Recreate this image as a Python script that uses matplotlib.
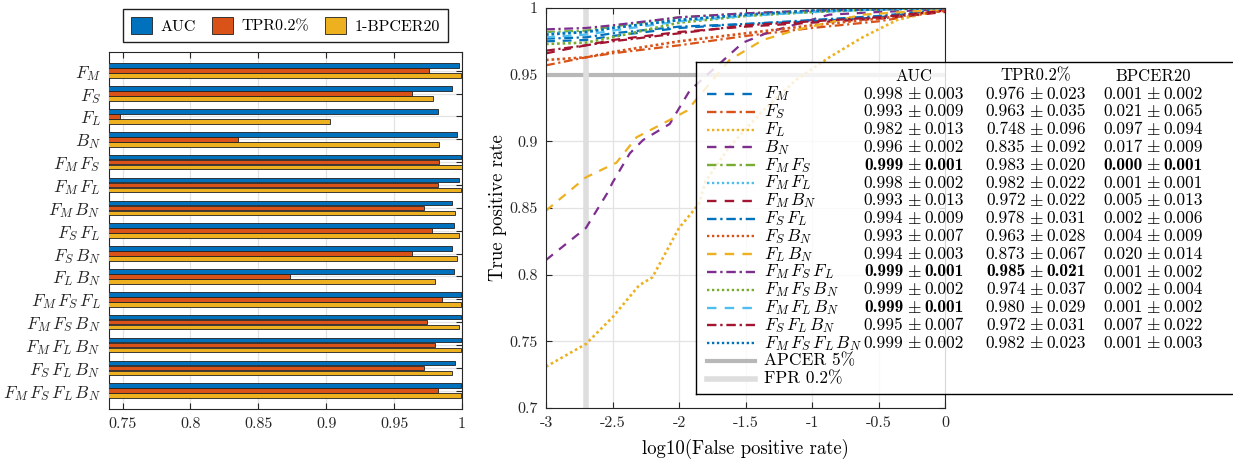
import numpy as np
import matplotlib
matplotlib.use('Agg')
import matplotlib.pyplot as plt

plt.rcParams['font.family'] = ['cmr10', 'DejaVu Serif']
plt.rcParams['mathtext.fontset'] = 'cm'
plt.rcParams['axes.unicode_minus'] = False

# feature combinations (row order of the table / bar chart)
names = [r'F_M', r'F_S', r'F_L', r'B_N',
         r'F_M\,F_S', r'F_M\,F_L', r'F_M\,B_N', r'F_S\,F_L', r'F_S\,B_N', r'F_L\,B_N',
         r'F_M\,F_S\,F_L', r'F_M\,F_S\,B_N', r'F_M\,F_L\,B_N', r'F_S\,F_L\,B_N',
         r'F_M\,F_S\,F_L\,B_N']

auc       = [0.998, 0.993, 0.982, 0.996, 0.999, 0.998, 0.993, 0.994, 0.993, 0.994, 0.999, 0.999, 0.999, 0.995, 0.999]
auc_std   = [0.003, 0.009, 0.013, 0.002, 0.001, 0.002, 0.013, 0.009, 0.007, 0.003, 0.001, 0.002, 0.001, 0.007, 0.002]
tpr       = [0.976, 0.963, 0.748, 0.835, 0.983, 0.982, 0.972, 0.978, 0.963, 0.873, 0.985, 0.974, 0.980, 0.972, 0.982]
tpr_std   = [0.023, 0.035, 0.096, 0.092, 0.020, 0.022, 0.022, 0.031, 0.028, 0.067, 0.021, 0.037, 0.029, 0.031, 0.023]
bpcer     = [0.001, 0.021, 0.097, 0.017, 0.000, 0.001, 0.005, 0.002, 0.004, 0.020, 0.001, 0.002, 0.001, 0.007, 0.001]
bpcer_std = [0.002, 0.065, 0.094, 0.009, 0.001, 0.001, 0.013, 0.006, 0.009, 0.014, 0.002, 0.004, 0.002, 0.022, 0.003]

# best entries shown in bold
auc_best   = [4, 10, 12]
tpr_best   = [10]
bpcer_best = [4]

# ROC curves, log10(FPR) -> TPR
roc_x = [-3.0, -2.7, -2.5, -2.0, -1.5, -1.0, -0.5, 0.0]
roc_y = {
    0:  [0.975, 0.976, 0.979, 0.985, 0.988, 0.990, 0.993, 0.999],
    1:  [0.957, 0.963, 0.966, 0.972, 0.979, 0.985, 0.990, 0.998],
    4:  [0.982, 0.983, 0.986, 0.993, 0.996, 0.998, 0.999, 1.000],
    5:  [0.981, 0.982, 0.985, 0.991, 0.995, 0.997, 0.999, 1.000],
    6:  [0.966, 0.972, 0.976, 0.982, 0.986, 0.989, 0.992, 0.997],
    7:  [0.977, 0.978, 0.981, 0.986, 0.988, 0.991, 0.994, 0.999],
    8:  [0.961, 0.963, 0.967, 0.975, 0.981, 0.987, 0.992, 0.998],
    10: [0.984, 0.985, 0.987, 0.993, 0.996, 0.998, 0.999, 1.000],
    11: [0.973, 0.974, 0.978, 0.989, 0.994, 0.997, 0.999, 1.000],
    12: [0.978, 0.980, 0.983, 0.990, 0.994, 0.997, 0.999, 1.000],
    13: [0.968, 0.972, 0.975, 0.981, 0.987, 0.990, 0.993, 0.998],
    14: [0.980, 0.982, 0.985, 0.991, 0.995, 0.998, 0.999, 1.000],
}
fl_x = [-3.0, -2.7, -2.5, -2.3, -2.2, -2.0, -1.85, -1.8, -1.62, -1.37, -1.12, -0.87, -0.62, -0.36, -0.11, 0.0]
fl_y = [0.731, 0.748, 0.768, 0.792, 0.798, 0.835, 0.853, 0.870, 0.896, 0.923, 0.946, 0.963, 0.978, 0.991, 0.997, 0.999]
bn_x = [-3.0, -2.7, -2.54, -2.5, -2.37, -2.27, -2.07, -1.92, -1.72, -1.52, -1.32, -0.87, -0.5, 0.0]
bn_y = [0.811, 0.835, 0.861, 0.869, 0.891, 0.901, 0.913, 0.938, 0.956, 0.974, 0.982, 0.995, 0.997, 0.999]
flbn_x = [-3.0, -2.7, -2.47, -2.32, -2.07, -1.94, -1.62, -1.37, -1.12, -0.62, 0.0]
flbn_y = [0.848, 0.873, 0.884, 0.903, 0.916, 0.923, 0.961, 0.976, 0.9835, 0.995, 0.999]

apcer_level = 0.95
fpr_level = np.log10(0.002)

# matlab colour order, cycled with three line styles
mcols = ['#0072BD', '#D95319', '#EDB120', '#7E2F8E', '#77AC30', '#4DBEEE', '#A2142F']
dash = (0, (4, 3.5))
dashdot = (0, (4, 1.6, 1, 1.6))
dot = (0, (1, 1.1))
styles = [dash, dashdot, dot]

curves = {}
for k, v in roc_y.items():
    curves[k] = (roc_x, v)
curves[2] = (fl_x, fl_y)
curves[3] = (bn_x, bn_y)
curves[9] = (flbn_x, flbn_y)

W, H = 1233, 462
fig = plt.figure(figsize=(W / 100, H / 100), dpi=100)

def fbox(l, t, r, b):
    return [l / W, 1 - b / H, (r - l) / W, (b - t) / H]

gridc = '#e3e3e3'
axc = '#262626'

# ---------------- bar chart ----------------
ax1 = fig.add_axes(fbox(109, 52, 462, 409))
pos = np.arange(1, len(names) + 1)
bh = 0.2
off = 0.22
one_minus = [1 - b for b in bpcer]
ax1.barh(pos - off, auc, height=bh, left=0, color=mcols[0], edgecolor='#202020', lw=0.6, label='AUC', zorder=3)
ax1.barh(pos, tpr, height=bh, left=0, color=mcols[1], edgecolor='#202020', lw=0.6, label='TPR0.2%', zorder=3)
ax1.barh(pos + off, one_minus, height=bh, left=0, color=mcols[2], edgecolor='#202020', lw=0.6, label='1-BPCER20', zorder=3)
ax1.set_xlim(0.74, 1.0)
ax1.set_ylim(15.8, 0.18)
ax1.set_yticks(pos)
ax1.set_yticklabels(['$' + n + '$' for n in names], fontsize=12.5)
ax1.set_xticks([0.75, 0.8, 0.85, 0.9, 0.95, 1.0])
ax1.set_xticklabels(['0.75', '0.8', '0.85', '0.9', '0.95', '1'], fontsize=11.5)
ax1.grid(True, color=gridc, lw=0.9, zorder=0)
ax1.set_axisbelow(True)
ax1.tick_params(direction='in', top=True, right=True, length=4, colors=axc, labelcolor=axc, pad=6)
for s in ax1.spines.values():
    s.set_color(axc)
ax1.legend(loc='lower center', bbox_to_anchor=(0.5, 1.028), borderaxespad=0, ncol=3, fontsize=11.5,
           frameon=True, fancybox=False, edgecolor='#202020', framealpha=1,
           handlelength=1.3, handleheight=1.3, handletextpad=0.5, columnspacing=1.05,
           borderpad=0.5)

# ---------------- ROC ----------------
ax2 = fig.add_axes(fbox(546, 8, 945, 408))
ax2.axhline(apcer_level, color='#b8b8b8', lw=3, zorder=1)
ax2.axvline(fpr_level, color='#dedede', lw=4, zorder=1)
for k in range(len(names)):
    xs, ys = curves[k]
    lw = 1.9 if styles[k % 3] is dot else 1.6
    ax2.plot(xs, ys, color=mcols[k % 7], linestyle=styles[k % 3], lw=lw, zorder=2)
ax2.set_xlim(-3, 0)
ax2.set_ylim(0.7, 1.0)
ax2.set_xticks([-3, -2.5, -2, -1.5, -1, -0.5, 0])
ax2.set_xticklabels(['-3', '-2.5', '-2', '-1.5', '-1', '-0.5', '0'], fontsize=11.5)
ax2.set_yticks([0.7, 0.75, 0.8, 0.85, 0.9, 0.95, 1.0])
ax2.set_yticklabels(['0.7', '0.75', '0.8', '0.85', '0.9', '0.95', '1'], fontsize=11.5)
ax2.grid(True, color=gridc, lw=0.9, zorder=0)
ax2.set_axisbelow(True)
ax2.tick_params(direction='in', top=True, right=True, length=4, colors=axc, labelcolor=axc, pad=6)
for s in ax2.spines.values():
    s.set_color(axc)
ax2.set_xlabel('log10(False positive rate)', fontsize=13.5, labelpad=6)
ax2.set_ylabel('True positive rate', fontsize=13.5, labelpad=2)

# ---------------- legend table ----------------
lx0, ly0, lx1, ly1 = 696, 62, 1240, 394
axl = fig.add_axes(fbox(lx0, ly0, lx1, ly1))
axl.set_xlim(0, lx1 - lx0)
axl.set_ylim(ly1 - ly0, 0)
axl.set_xticks([])
axl.set_yticks([])
axl.patch.set_facecolor('white')
axl.patch.set_alpha(0.82)
for s in axl.spines.values():
    s.set_color('black')
    s.set_linewidth(1.0)

row0, dy = 32, 17.8
cols_x = [218, 340, 457]
fs = 12.5
half = 10.5   # half width of " ± " in px
for cx, head in zip(cols_x, ['AUC', 'TPR0.2%', 'BPCER20']):
    axl.text(cx, 14, head, ha='center', va='center', fontsize=12)

def cell(cx, y, m, s, bold):
    fam = 'cmb10' if bold else 'cmr10'
    axl.text(cx - half, y, '%.3f' % m, ha='right', va='center', fontsize=fs, family=fam)
    axl.text(cx, y, r'$\pm$', ha='center', va='center', fontsize=fs)
    axl.text(cx + half, y, '%.3f' % s, ha='left', va='center', fontsize=fs, family=fam)

for k, n in enumerate(names):
    y = row0 + dy * k
    axl.plot([11, 59], [y, y], color=mcols[k % 7], linestyle=styles[k % 3], lw=1.7)
    axl.text(68, y, '$' + n + '$', ha='left', va='center', fontsize=fs)
    cell(cols_x[0], y, auc[k], auc_std[k], k in auc_best)
    cell(cols_x[1], y, tpr[k], tpr_std[k], k in tpr_best)
    cell(cols_x[2], y, bpcer[k], bpcer_std[k], k in bpcer_best)

ya = row0 + dy * len(names)
axl.plot([11, 59], [ya, ya], color='#b8b8b8', lw=3)
axl.text(68, ya, 'APCER 5%', ha='left', va='center', fontsize=fs)
yb = ya + dy
axl.plot([11, 59], [yb, yb], color='#dedede', lw=4)
axl.text(68, yb, 'FPR 0.2%', ha='left', va='center', fontsize=fs)

fig.savefig('out.png', dpi=100)
